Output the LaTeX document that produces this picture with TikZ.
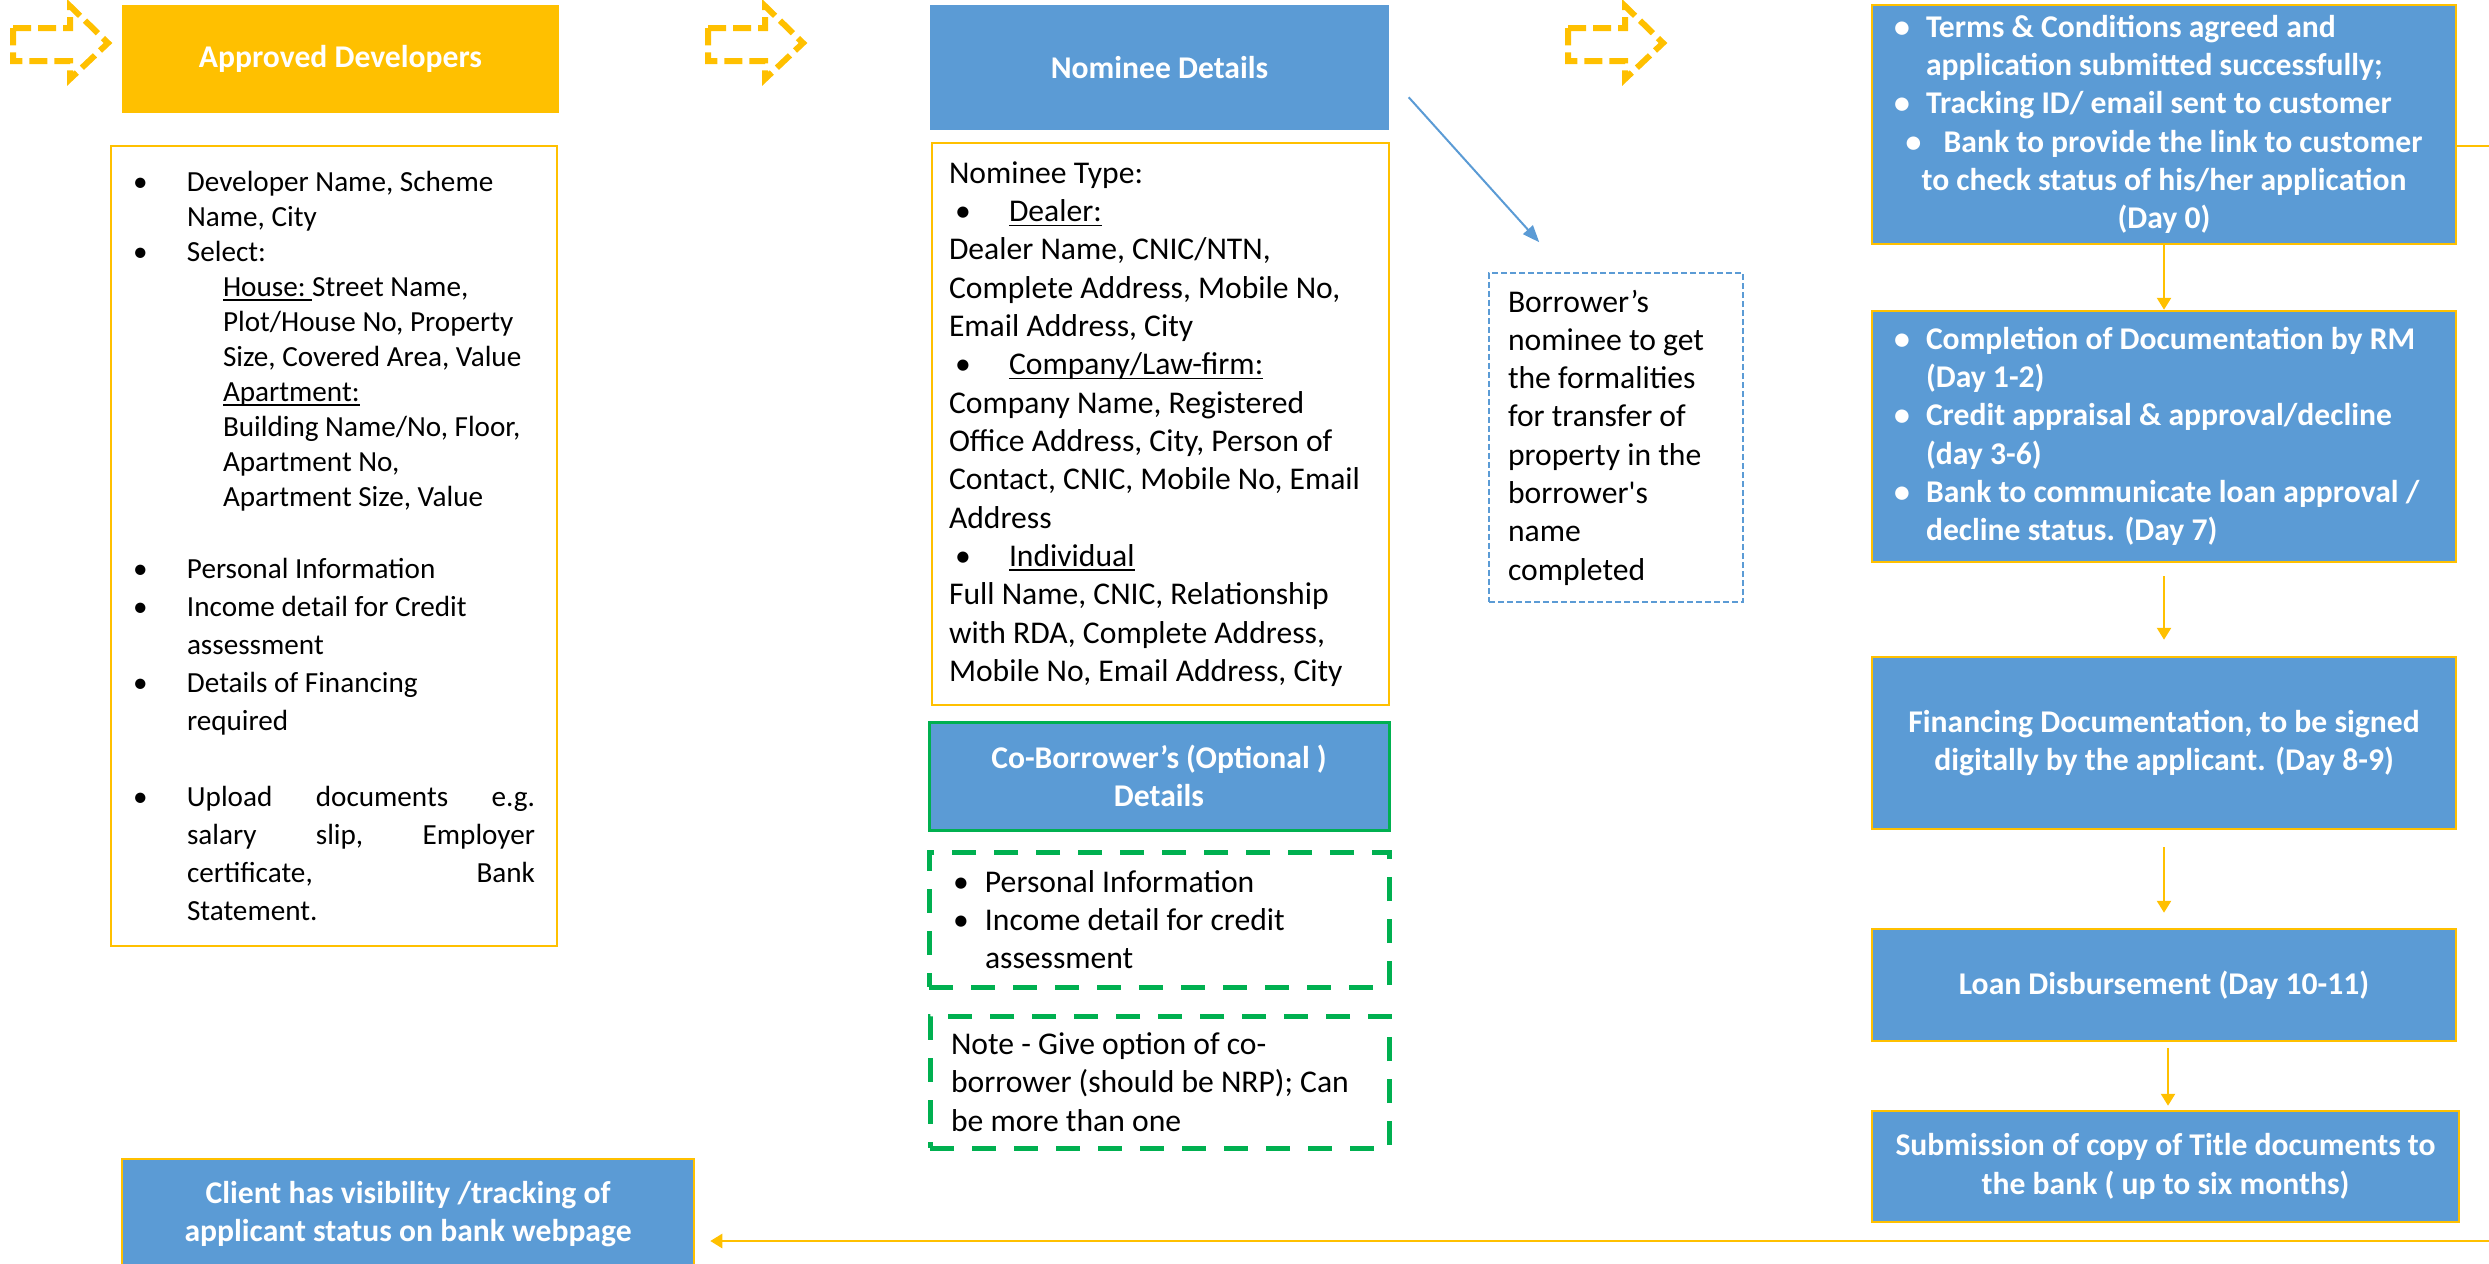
\documentclass[tikz,border=0pt]{standalone}
\usepackage{fontspec}
\setmainfont{Carlito}
\usetikzlibrary{arrows.meta,calc}
\definecolor{devyellow}{HTML}{FFC000}
\definecolor{stepblue}{HTML}{5B9BD5}
\definecolor{cogreen}{HTML}{00B050}
\setlength{\parindent}{0pt}
\newcommand{\bul}[1]{\makebox[#1][l]{\textbullet}}
\newcommand{\uln}[1]{\setbox0\hbox{#1}\rlap{\rule[-1.3pt]{\wd0}{0.45pt}}\box0}
\newcommand{\txt}{\fontsize{9}{10.9}\selectfont}
\newcommand{\btxt}{\fontsize{9}{10.9}\selectfont\bfseries}

\begin{document}
\begin{tikzpicture}[x=0.1mm,y=-0.1mm,
  head/.style={inner sep=0pt,align=center,text=white,font=\btxt},
  stepbox/.style={draw=devyellow,line width=0.25mm,fill=stepblue,inner sep=0pt,text=white,font=\btxt},
  listbox/.style={draw=devyellow,line width=0.25mm,inner sep=0pt,align=flush left,font=\txt},
  greenbox/.style={draw=cogreen,line width=0.5mm,dash pattern=on 2.4mm off 1.8mm,inner sep=0pt,align=flush left,font=\txt},
  flow/.style={draw=devyellow,line width=0.25mm,-{Triangle[length=1.2mm,width=1.4mm]}}]
  \useasboundingbox (0,0) rectangle (2489,1263);

  % dashed block arrows on top
  \foreach \dx in {0,695,1555}
    \draw[devyellow,line width=0.6mm,dash pattern=on 1.8mm off 0.7mm]
      (13+\dx,28) -- (70+\dx,28) -- (70+\dx,6) -- (108+\dx,43) -- (70+\dx,79) -- (70+\dx,61) -- (13+\dx,61) -- cycle;

  % first column
  \node[head,fill=devyellow,minimum width=43.7mm,minimum height=10.8mm] (appdev) at (340.5,59) {Approved Developers};
  \node[listbox,text width=40.2mm,inner xsep=2.2mm,minimum height=80mm,font=\fontsize{8.3}{9.95}\selectfont] (devlist) at (334,546) {%
    \bul{5.4mm}Developer Name, Scheme\\
    \hspace*{5.4mm}Name, City\\
    \bul{5.4mm}Select:\\
    \hspace*{9mm}\uln{House:\ }Street Name,\\
    \hspace*{9mm}Plot/House No, Property\\
    \hspace*{9mm}Size, Covered Area, Value\\
    \hspace*{9mm}\uln{Apartment:}\\
    \hspace*{9mm}Building Name/No, Floor,\\
    \hspace*{9mm}Apartment No,\\
    \hspace*{9mm}Apartment Size, Value\\[9.9pt]
    {\fontsize{8.3}{10.8}\selectfont
    \bul{5.4mm}Personal Information\\
    \bul{5.4mm}Income detail for Credit\\
    \hspace*{5.4mm}assessment\\
    \bul{5.4mm}Details of Financing\\
    \hspace*{5.4mm}required\\[10.8pt]
    \bul{5.4mm}Upload\hfill documents\hfill e.g.\\
    \hspace*{5.4mm}salary\hfill slip,\hfill Employer\\
    \hspace*{5.4mm}certificate,\hfill Bank\\
    \hspace*{5.4mm}Statement.\par}};
  \node[stepbox,align=center,minimum width=57.2mm,minimum height=11mm] (client) at (408,1214) {Client has visibility /tracking of\\ applicant status on bank webpage};

  % second column
  \node[head,fill=stepblue,minimum width=45.9mm,minimum height=12.5mm] (nomhead) at (1159.5,67.5) {Nominee Details};
  \node[listbox,text width=42.3mm,inner xsep=1.7mm,minimum height=56.2mm] (nomlist) at (1160.5,424) {%
    Nominee Type:\\
    \hspace*{0.6mm}\bul{5.4mm}\uln{Dealer:}\\
    Dealer Name, CNIC/NTN,\\
    Complete Address, Mobile No,\\
    Email Address, City\\
    \hspace*{0.6mm}\bul{5.4mm}\uln{Company/Law-firm:}\\
    Company Name, Registered\\
    Office Address, City, Person of\\
    Contact, CNIC, Mobile No, Email\\
    Address\\
    \hspace*{0.6mm}\bul{5.4mm}\uln{Individual}\\
    Full Name, CNIC, Relationship\\
    with RDA, Complete Address,\\
    Mobile No, Email Address, City};
  \node[head,fill=stepblue,draw=cogreen,line width=0.3mm,minimum width=46mm,minimum height=10.8mm] (cohead) at (1159,776) {Co-Borrower’s (Optional )\\ Details};
  \node[greenbox,text width=41.2mm,inner xsep=2.4mm,minimum height=13.5mm] (coinfo) at (1159,919.5) {%
    \bul{3.2mm}Personal Information\\
    \bul{3.2mm}Income detail for credit\\
    \hspace*{3.2mm}assessment};
  \node[greenbox,text width=41.7mm,inner xsep=2.1mm,minimum height=13.2mm] (conote) at (1159.5,1082) {%
    Note - Give option of co-\\
    borrower (should be NRP); Can\\
    be more than one};

  \node[draw=stepblue,line width=0.15mm,dash pattern=on 0.6mm off 0.3mm,inner sep=0pt,inner xsep=1.9mm,text width=21.6mm,minimum height=32.9mm,align=flush left,font=\txt] (transfer) at (1616,437.5) {%
    Borrower’s\\ nominee to get\\ the formalities\\ for transfer of\\ property in the\\ borrower\textquotesingle s\\ name\\ completed};
  \draw[stepblue,line width=0.2mm,-{Triangle[length=1.7mm,width=1.3mm]}]
    ($(nomhead.north east)+(19,93)$) -- ($(transfer.north west)+(51,-30)$);

  % third column
  \node[stepbox,align=flush left,text width=54mm,inner xsep=2.2mm,minimum height=23.9mm] (submitted) at (2164,124.5) {%
    \bul{3.2mm}Terms \& Conditions agreed and\\
    \hspace*{3.2mm}application submitted successfully;\\
    \bul{3.2mm}Tracking ID/ email sent to customer\\
    {\centering\bul{3.8mm}Bank to provide the link to customer\\
    to check status of his/her application\\
    (Day 0)\par}};
  \node[stepbox,align=flush left,text width=54mm,inner xsep=2.2mm,minimum height=25.1mm] (appraisal) at (2164,436.5) {%
    \bul{3.2mm}Completion of Documentation by RM\\
    \hspace*{3.2mm}(Day 1-2)\\
    \bul{3.2mm}Credit appraisal \& approval/decline\\
    \hspace*{3.2mm}(day 3-6)\\
    \bul{3.2mm}Bank to communicate loan approval /\\
    \hspace*{3.2mm}decline status. (Day 7)};
  \node[stepbox,align=center,minimum width=58.4mm,minimum height=17.2mm] (signing) at (2164,743) {Financing Documentation, to be signed\\ digitally by the applicant. (Day 8-9)};
  \node[stepbox,align=center,minimum width=58.4mm,minimum height=11.2mm] (disburse) at (2164,985) {Loan Disbursement (Day 10-11)};
  \node[stepbox,align=center,minimum width=58.7mm,minimum height=11.1mm] (titledocs) at (2165.5,1166.5) {Submission of copy of Title documents to\\ the bank ( up to six months)};

  \draw[flow] (submitted.south) -- (appraisal.north);
  \draw[flow,shorten <=1.3mm,shorten >=1.6mm] (appraisal.south) -- (signing.north);
  \draw[flow,shorten <=1.7mm,shorten >=1.5mm] (signing.south) -- (disburse.north);
  \draw[flow,shorten <=0.6mm,shorten >=0.4mm] ([xshift=0.4mm]disburse.south) -- ([xshift=0.4mm]disburse.south |- titledocs.north);

  % lines leaving the page
  \coordinate (rimA) at (2489,146);
  \coordinate (rimB) at (2489,1241);
  \draw[devyellow,line width=0.25mm] (submitted.east |- rimA) -- (rimA);
  \draw[flow,shorten >=1.5mm] (rimB) -- (client.east |- rimB);
\end{tikzpicture}
\end{document}
